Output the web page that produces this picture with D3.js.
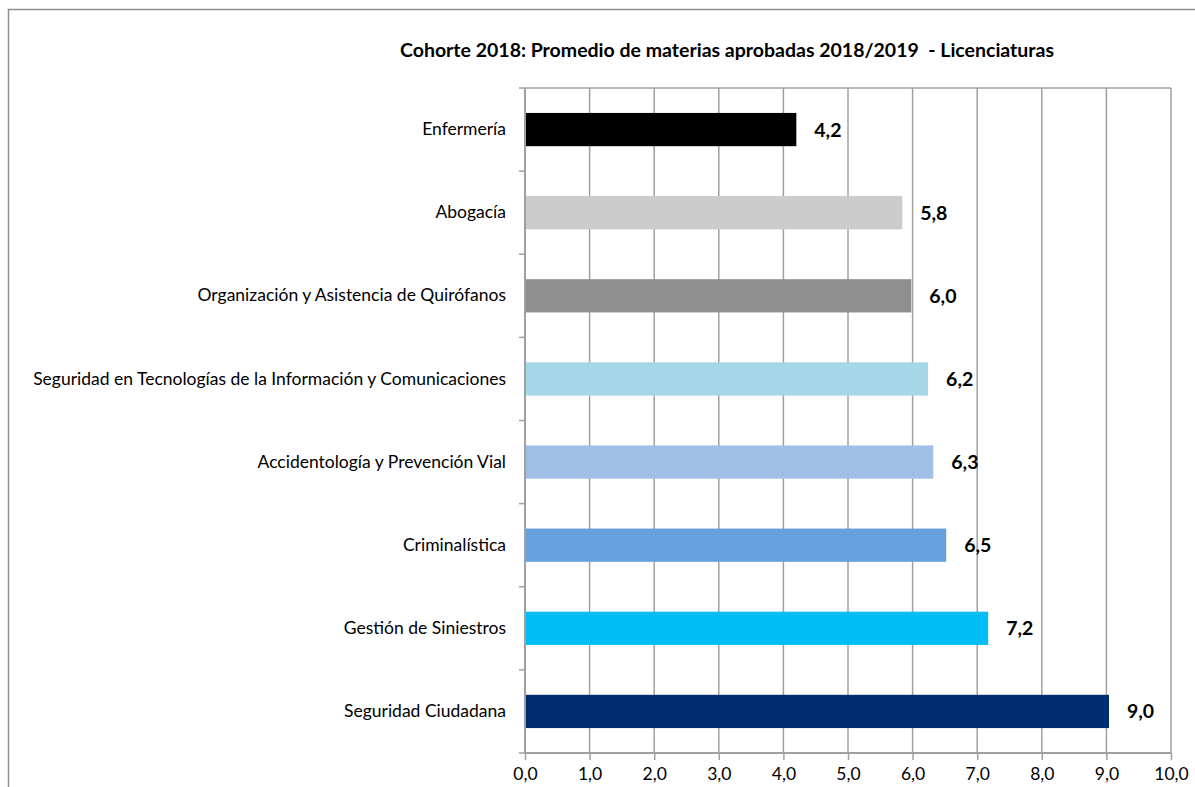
<!DOCTYPE html>
<html>
<head>
<meta charset="utf-8">
<script src="https://cdn.jsdelivr.net/npm/d3@7"></script>
<style>
  html, body { margin: 0; padding: 0; background: #fff; }
  svg { display: block; }
  text { font-family: Lato, "Noto Sans", sans-serif; }
</style>
</head>
<body>
<svg id="chart" width="1195" height="787"></svg>
<script>
const categories = [
  "Enfermería",
  "Abogacía",
  "Organización y Asistencia de Quirófanos",
  "Seguridad en Tecnologías de la Información y Comunicaciones",
  "Accidentología y Prevención Vial",
  "Criminalística",
  "Gestión de Siniestros",
  "Seguridad Ciudadana"
];
const values = [4.2, 5.84, 5.98, 6.24, 6.32, 6.52, 7.17, 9.04];
const barColors = ["#000000", "#cccccc", "#8f8f8f", "#a5d8e6", "#a0bfe6", "#66a0de", "#00bdf5", "#002d72"];
const xTicks = [0, 1, 2, 3, 4, 5, 6, 7, 8, 9, 10];
const title = "Cohorte 2018: Promedio de materias aprobadas 2018/2019  - Licenciaturas";

(function () {
const svg = d3.select("#chart");
const pL = 525, pR = 1171, pT = 88, pB = 753;
const gridColor = "#a0a0a0";

// outer chart border
svg.append("rect")
  .attr("x", 8.5).attr("y", 9.5)
  .attr("width", 1200).attr("height", 800)
  .attr("fill", "none").attr("stroke", "#8e8e8e").attr("stroke-width", 1.5);

const x = d3.scaleLinear().domain([0, 10]).range([pL, pR]);
const y = d3.scaleBand().domain(categories).range([pT, pB])
  .paddingInner(0.6).paddingOuter(0.3);

const fmt = v => d3.format(".1f")(v).replace(".", ",");

// gridlines
svg.append("g").selectAll("line").data(xTicks.slice(1)).join("line")
  .attr("x1", d => x(d)).attr("x2", d => x(d))
  .attr("y1", pT).attr("y2", pB)
  .attr("stroke", gridColor).attr("stroke-width", 1.5);

// plot top border
svg.append("line").attr("x1", pL).attr("x2", pR).attr("y1", pT).attr("y2", pT)
  .attr("stroke", gridColor).attr("stroke-width", 1.5);

// bars
svg.append("g").selectAll("rect").data(categories).join("rect")
  .attr("x", x(0))
  .attr("y", d => y(d))
  .attr("width", (d, i) => x(values[i]) - x(0))
  .attr("height", y.bandwidth())
  .attr("fill", (d, i) => barColors[i]);

// value labels
svg.append("g").selectAll("text").data(categories).join("text")
  .attr("x", (d, i) => x(values[i]) + 18)
  .attr("y", d => y(d) + y.bandwidth() / 2)
  .attr("dy", "0.36em")
  .attr("font-size", 19.5).attr("font-weight", "bold").attr("fill", "#000")
  .text((d, i) => fmt(values[i]));

// x axis
const xAxis = d3.axisBottom(x).tickValues(xTicks).tickFormat(fmt).tickSize(7).tickPadding(8);
const gx = svg.append("g").attr("transform", `translate(0,${pB})`).call(xAxis);
gx.select(".domain").attr("stroke", gridColor).attr("stroke-width", 2).attr("d", `M${pL},0H${pR}`);
gx.selectAll(".tick line").attr("stroke", gridColor).attr("stroke-width", 1.5);
gx.selectAll(".tick text").attr("font-size", 17.5).attr("fill", "#000")
  .style("font-family", "Lato, 'Noto Sans', sans-serif");

// y axis
const yAxis = d3.axisLeft(y).tickSize(0).tickPadding(19);
const gy = svg.append("g").attr("transform", `translate(${pL},0)`).call(yAxis);
gy.select(".domain").attr("stroke", gridColor).attr("stroke-width", 2).attr("d", `M0,${pT}V${pB}`);
gy.selectAll(".tick text").attr("font-size", 17.5).attr("fill", "#000")
  .style("font-family", "Lato, 'Noto Sans', sans-serif");

// y boundary ticks
const step = y.step();
const bounds = d3.range(categories.length + 1).map(k => pT + k * step);
svg.append("g").selectAll("line").data(bounds).join("line")
  .attr("x1", pL - 6).attr("x2", pL)
  .attr("y1", d => d).attr("y2", d => d)
  .attr("stroke", gridColor).attr("stroke-width", 1.5);

// title
svg.append("text")
  .attr("x", 727).attr("y", 57)
  .attr("text-anchor", "middle")
  .attr("font-size", 19.5).attr("font-weight", "bold")
  .style("white-space", "pre")
  .attr("xml:space", "preserve")
  .text(title);
})();
</script>
</body>
</html>
